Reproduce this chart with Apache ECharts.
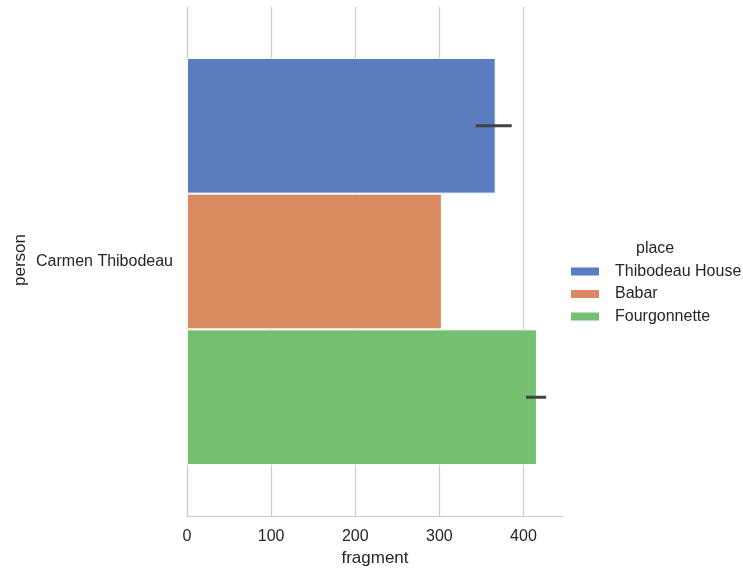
<!DOCTYPE html>
<html>
<head>
<meta charset="utf-8">
<script src="https://cdn.jsdelivr.net/npm/echarts@6/dist/echarts.min.js"></script>
<style>
  html, body { margin: 0; padding: 0; background: #ffffff; }
  #chart { width: 743px; height: 569px; }
</style>
</head>
<body>
<div id="chart"></div>
<script>
// Mean fragment per place for each person, with 95% CI bounds
const persons = ['Carmen Thibodeau'];
const places = ['Thibodeau House', 'Babar', 'Fourgonnette'];
const fragmentMean = [367, 303, 416];
const ciLow = [343, null, 403];
const ciHigh = [386, null, 427];
const xTicks = [0, 100, 200, 300, 400];

const colors = ['#597dbf', '#d98b5f', '#75bf71'];
const textColor = '#262626';
const fontFamily = 'Liberation Sans, Arial, sans-serif';
const groupFrac = 0.8;

const chart = echarts.init(document.getElementById('chart'), null, { renderer: 'canvas' });

const barSeries = places.map((p, i) => ({
  name: p,
  type: 'bar',
  data: [fragmentMean[i]],
  barWidth: (groupFrac / places.length * 100) + '%',
  barGap: '0%',
  itemStyle: { color: colors[i], borderColor: '#ffffff', borderWidth: 1 },
  emphasis: { disabled: true },
  z: 2
}));

// Confidence interval lines drawn at the centre of each bar
const errorSeries = {
  type: 'custom',
  silent: true,
  z: 5,
  data: places.map((p, i) => [i, ciLow[i], ciHigh[i], 0]),
  renderItem: function (params, api) {
    const idx = api.value(0);
    const lo = api.value(1);
    const hi = api.value(2);
    if (lo == null || isNaN(lo)) return null;
    const band = api.size([0, 1])[1];
    const w = band * groupFrac / places.length;
    const offset = (idx - (places.length - 1) / 2) * w;
    const p1 = api.coord([lo, api.value(3)]);
    const p2 = api.coord([hi, api.value(3)]);
    const y = p1[1] + offset;
    return {
      type: 'line',
      shape: { x1: p1[0], y1: y, x2: p2[0], y2: y },
      style: { stroke: '#424242', lineWidth: 3, lineCap: 'butt' }
    };
  },
  encode: { x: [1, 2], y: 3 }
};

chart.setOption({
  animation: false,
  backgroundColor: '#ffffff',
  textStyle: { fontFamily: fontFamily, color: textColor },
  title: {
    text: 'place',
    left: 636,
    top: 241,
    padding: 0,
    textStyle: { fontSize: 16, fontWeight: 'normal', color: textColor, fontFamily: fontFamily }
  },
  legend: {
    orient: 'vertical',
    left: 569,
    top: 263,
    padding: 0,
    itemWidth: 30,
    itemHeight: 10,
    itemGap: 5.5,
    icon: 'rect',
    selectedMode: false,
    data: places,
    textStyle: { fontSize: 16, color: textColor, fontFamily: fontFamily, lineHeight: 17, padding: [0, 0, 0, 10] }
  },
  // y-axis title, placed left of the category labels
  graphic: [{
    type: 'text',
    x: 20,
    y: 260,
    rotation: Math.PI / 2,
    silent: true,
    style: {
      text: 'person',
      fill: textColor,
      font: '17px ' + fontFamily,
      align: 'center',
      verticalAlign: 'middle'
    }
  }],
  grid: { left: 187, right: 180, top: 7, bottom: 53, containLabel: false, outerBoundsMode: 'none' },
  xAxis: {
    type: 'value',
    min: 0,
    max: 447,
    interval: 100,
    name: 'fragment',
    nameLocation: 'middle',
    nameGap: 34,
    nameTextStyle: { fontSize: 17, color: textColor, fontFamily: fontFamily },
    axisLine: { show: true, lineStyle: { color: '#cccccc', width: 1.2 } },
    axisTick: { show: false },
    axisLabel: {
      fontSize: 16, color: textColor, margin: 13, fontFamily: fontFamily,
      showMaxLabel: false,
      formatter: v => (xTicks.indexOf(v) >= 0 ? String(v) : '')
    },
    splitLine: { show: true, showMaxLine: false, lineStyle: { color: '#cccccc', width: 1.2 } }
  },
  yAxis: {
    type: 'category',
    data: persons,
    inverse: true,
    axisLine: { show: true, lineStyle: { color: '#cccccc', width: 1.2 } },
    axisTick: { show: false },
    axisLabel: { fontSize: 16, color: textColor, margin: 14, fontFamily: fontFamily, padding: [5, 0, 0, 0] },
    splitLine: { show: false }
  },
  series: barSeries.concat([errorSeries])
});
</script>
</body>
</html>
